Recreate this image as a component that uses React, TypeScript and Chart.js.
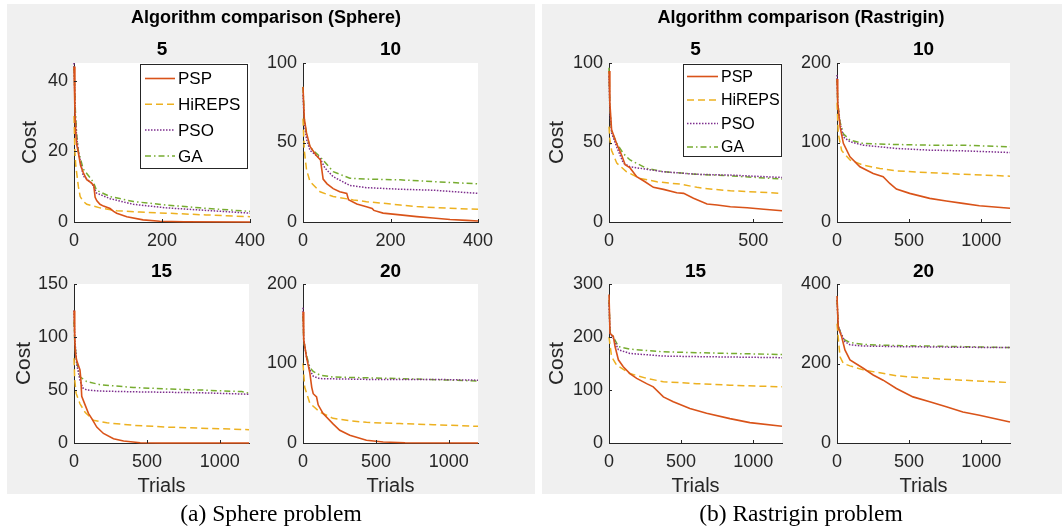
import { useEffect, useRef } from "react";
import { Chart, registerables } from "chart.js";
Chart.register(...registerables);

type Pt = [number, number];

// ---- series names and styles ----
const algorithms = ["PSP", "HiREPS", "PSO", "GA"];
const colors = ["#D95319", "#EDB120", "#7E2F8E", "#77AC30"];
const dashes: number[][] = [[], [7, 4], [1.5, 1.5], [6, 3, 1.5, 3]];
const widths = [1.6, 1.5, 1.5, 1.5];

// ---- Sphere, dim 5 ----
const sphere5PSP: Pt[] = [[0, 44], [2, 32], [4, 25], [6, 22], [10, 19.5], [15, 16], [21, 14], [29, 12], [40, 11], [45, 10.3], [48, 7], [52, 6], [59, 5], [67, 4.5], [82, 3.8], [90, 3], [97, 2.5], [120, 1.5], [157, 0.6], [195, 0.2], [250, 0.05], [400, 0]];
const sphere5HiREPS: Pt[] = [[0, 30], [2, 20], [4, 16], [6, 14], [10, 10], [14, 7.2], [20, 6], [29, 5], [59, 4], [97, 3.2], [150, 2.8], [210, 2.5], [300, 2], [400, 1.5]];
const sphere5PSO: Pt[] = [[0, 45], [3, 30], [6, 24], [10, 20], [21, 13], [40, 11], [45, 10], [51, 8.2], [82, 6.6], [135, 5], [210, 4], [286, 3.4], [400, 2.5]];
const sphere5GA: Pt[] = [[0, 44], [3, 32], [6, 25], [10, 20], [21, 15], [40, 12], [45, 11], [51, 9], [82, 7.2], [135, 5.8], [210, 4.8], [286, 4], [400, 3]];

// ---- Sphere, dim 10 ----
const sphere10PSP: Pt[] = [[0, 85], [3, 65], [8, 56], [16, 47.5], [30, 42], [40, 39], [43, 33], [46, 27], [55, 24], [69, 21], [84, 19], [100, 18], [104, 14], [123, 11.3], [145, 9.6], [158, 8.5], [162, 7.3], [183, 5.6], [222, 4.5], [260, 3.4], [297, 2.5], [336, 1.6], [374, 1], [400, 0.6]];
const sphere10HiREPS: Pt[] = [[0, 65], [3, 45], [8, 33], [16, 25.4], [39, 19], [69, 16], [115, 13.9], [145, 12.8], [222, 10.7], [260, 9.7], [336, 8.6], [400, 8]];
const sphere10PSO: Pt[] = [[0, 80], [3, 62], [8, 52], [16, 45], [39, 40], [50, 34], [69, 28.5], [107, 23], [145, 21.6], [222, 20.6], [297, 20], [400, 18]];
const sphere10GA: Pt[] = [[0, 85], [3, 65], [8, 55], [16, 47], [39, 41], [69, 31.7], [107, 27.5], [145, 27], [222, 26.5], [297, 25.4], [400, 24]];

// ---- Sphere, dim 15 ----
const sphere15PSP: Pt[] = [[0, 125], [5, 100], [10, 85], [18, 78], [41, 69], [47, 60], [53, 44], [76, 36], [99, 28], [122, 23], [156, 15], [202, 9], [271, 4], [340, 1.9], [454, 0.3], [600, 0], [1200, 0]];
const sphere15HiREPS: Pt[] = [[0, 80], [5, 60], [14, 47], [41, 37], [76, 29], [133, 21.5], [225, 19], [408, 16.7], [638, 15], [867, 14], [1200, 12.6]];
const sphere15PSO: Pt[] = [[0, 125], [5, 100], [18, 75], [41, 59], [60, 52], [87, 50], [179, 49], [408, 48.3], [867, 47.4], [1200, 46]];
const sphere15GA: Pt[] = [[0, 115], [5, 95], [18, 77], [41, 62.5], [87, 58], [179, 55], [408, 52.4], [638, 51], [867, 50], [1150, 48.5], [1200, 47]];

// ---- Sphere, dim 20 ----
const sphere20PSP: Pt[] = [[0, 165], [5, 130], [24, 108], [47, 88], [60, 70], [70, 62], [93, 58], [104, 48], [138, 37], [206, 24], [252, 16], [321, 9.7], [435, 3.4], [550, 1.3], [700, 0.3], [1200, 0]];
const sphere20HiREPS: Pt[] = [[0, 100], [12, 70], [47, 50], [115, 39], [206, 31], [321, 28], [435, 26], [664, 24.4], [893, 23], [1200, 21]];
const sphere20PSO: Pt[] = [[0, 170], [5, 130], [24, 108], [47, 92], [70, 84], [115, 81], [435, 80], [893, 80], [1200, 79]];
const sphere20GA: Pt[] = [[0, 160], [5, 128], [24, 110], [47, 95], [70, 90], [115, 85.5], [206, 83], [435, 82], [664, 81], [1200, 78]];

// ---- Rastrigin, dim 5 ----
const rast5PSP: Pt[] = [[0, 95], [3, 75], [9, 58], [27, 49], [44, 42], [56, 36], [73, 34], [96, 28.5], [125, 25.3], [154, 21.8], [189, 20.5], [235, 18.4], [259, 18], [293, 15], [340, 11.3], [375, 10.7], [421, 9.6], [479, 9], [537, 8], [600, 7.1]];
const rast5HiREPS: Pt[] = [[0, 60], [3, 52], [9, 45], [27, 37], [61, 31.6], [108, 27.4], [166, 25.3], [247, 23.8], [305, 21.8], [363, 20.5], [421, 19.7], [600, 18]];
const rast5PSO: Pt[] = [[0, 92], [3, 70], [9, 56], [27, 47], [50, 37], [73, 34.7], [189, 31.6], [305, 30], [421, 29.5], [600, 28]];
const rast5GA: Pt[] = [[0, 97], [3, 72], [9, 57], [27, 49.4], [50, 43], [73, 39], [131, 33.7], [189, 31.6], [305, 30], [421, 29], [600, 27]];

// ---- Rastrigin, dim 10 ----
const rast10PSP: Pt[] = [[0, 180], [5, 150], [21, 120], [44, 99], [90, 82], [159, 69.5], [251, 61], [320, 57], [366, 48.5], [412, 41.4], [504, 36], [643, 29.7], [758, 26.4], [873, 23.4], [988, 20.5], [1200, 17.2]];
const rast10HiREPS: Pt[] = [[0, 150], [9, 111], [32, 90], [90, 78], [182, 71.5], [297, 67.4], [412, 64.4], [643, 62], [873, 60], [1200, 57.7]];
const rast10PSO: Pt[] = [[0, 185], [5, 150], [21, 124], [44, 107], [90, 101], [182, 96.6], [412, 92.5], [643, 90.4], [873, 89.5], [1200, 87.4]];
const rast10GA: Pt[] = [[0, 180], [5, 150], [21, 126], [44, 111], [90, 103], [182, 98.7], [412, 97.5], [643, 96.6], [873, 96.6], [1200, 94.6]];

// ---- Rastrigin, dim 15 ----
const rast15PSP: Pt[] = [[0, 280], [7, 207], [30, 201], [42, 182], [65, 157], [99, 144], [145, 131], [192, 122], [261, 112], [307, 106], [377, 87], [446, 78], [561, 65], [677, 56], [839, 46], [977, 38.5], [1200, 31.6]];
const rast15HiREPS: Pt[] = [[0, 200], [18, 163], [53, 147], [145, 131], [261, 122], [377, 115.6], [607, 112], [839, 109], [1200, 106]];
const rast15PSO: Pt[] = [[0, 265], [7, 207], [30, 198], [65, 176], [145, 169], [377, 164], [607, 163], [1200, 161]];
const rast15GA: Pt[] = [[0, 270], [7, 210], [30, 200], [65, 182], [145, 177], [377, 172], [607, 170.5], [839, 169], [1200, 167]];

// ---- Rastrigin, dim 20 ----
const rast20PSP: Pt[] = [[0, 370], [9, 289], [32, 268], [55, 234], [90, 209], [182, 188], [251, 171], [320, 158], [412, 137], [527, 116], [643, 104], [758, 91], [873, 78], [988, 70], [1200, 53]];
const rast20HiREPS: Pt[] = [[0, 300], [21, 217], [44, 200], [90, 194], [182, 184], [412, 169], [643, 162.5], [873, 158], [1200, 152]];
const rast20PSO: Pt[] = [[0, 360], [9, 293], [32, 272], [55, 255], [90, 247], [182, 244], [412, 242.5], [873, 240.8], [1200, 240]];
const rast20GA: Pt[] = [[0, 360], [9, 293], [32, 272], [55, 259], [90, 253], [182, 248], [412, 245], [873, 242.5], [1200, 240]];

// ---- axis ranges / tick labels ----
const xMaxes = [400, 400, 1200, 1200, 600, 1200, 1200, 1200];
const yMaxes = [45, 100, 150, 200, 100, 200, 300, 400];
const xTicks = [[0, 200, 400], [0, 200, 400], [0, 500, 1000], [0, 500, 1000], [0, 500], [0, 500, 1000], [0, 500, 1000], [0, 500, 1000]];
const yTicks = [[0, 20, 40], [0, 50, 100], [0, 50, 100, 150], [0, 100, 200], [0, 50, 100], [0, 100, 200], [0, 100, 200, 300], [0, 200, 400]];
const subTitles = ["5", "10", "15", "20", "5", "10", "15", "20"];

const SANS = "'Liberation Sans', Arial, Helvetica, sans-serif";
const INK = "#262626";

type LegendLayout = { left: number; top: number; w: number; h: number; row0: number; gap: number; l0: number; l1: number; tx: number; font: number };

type Sub = {
  series: Pt[][];
  ax: number; ay: number; aw: number; ah: number;
  costPad: number | null; trials: boolean;
  legend?: LegendLayout;
};

const PADL = 70, PADT = 45, PADR = 15, PADB = 62;

const subs: Sub[] = [
  { series: [sphere5PSP, sphere5HiREPS, sphere5PSO, sphere5GA], ax: 74, ay: 63, aw: 176, ah: 159, costPad: 13.4, trials: false,
    legend: { left: 140, top: 63.5, w: 107, h: 104, row0: 78.5, gap: 25.8, l0: 5, l1: 35, tx: 38, font: 17 } },
  { series: [sphere10PSP, sphere10HiREPS, sphere10PSO, sphere10GA], ax: 303, ay: 63, aw: 175, ah: 159, costPad: null, trials: false },
  { series: [sphere15PSP, sphere15HiREPS, sphere15PSO, sphere15GA], ax: 74, ay: 284, aw: 175, ah: 159, costPad: 7.7, trials: true },
  { series: [sphere20PSP, sphere20HiREPS, sphere20PSO, sphere20GA], ax: 303, ay: 284, aw: 175, ah: 159, costPad: null, trials: true },
  { series: [rast5PSP, rast5HiREPS, rast5PSO, rast5GA], ax: 609, ay: 63, aw: 173, ah: 159, costPad: 5.9, trials: false,
    legend: { left: 683, top: 63.5, w: 98, h: 92, row0: 76.5, gap: 23.5, l0: 4, l1: 35, tx: 38, font: 16 } },
  { series: [rast10PSP, rast10HiREPS, rast10PSO, rast10GA], ax: 837, ay: 63, aw: 173, ah: 159, costPad: null, trials: false },
  { series: [rast15PSP, rast15HiREPS, rast15PSO, rast15GA], ax: 609, ay: 284, aw: 173, ah: 159, costPad: 6.1, trials: true },
  { series: [rast20PSP, rast20HiREPS, rast20PSO, rast20GA], ax: 837, ay: 284, aw: 173, ah: 159, costPad: null, trials: true },
];

const bgPlugin = {
  id: "bgWhite",
  beforeDraw(chart: any) {
    const { ctx, chartArea: a } = chart;
    ctx.save();
    ctx.fillStyle = "#ffffff";
    ctx.fillRect(a.left, a.top, a.right - a.left, a.bottom - a.top);
    ctx.restore();
  },
};

const tickPlugin = {
  id: "inTicks",
  afterDraw(chart: any) {
    const { ctx, chartArea: a, scales } = chart;
    ctx.save();
    ctx.strokeStyle = INK;
    ctx.lineWidth = 1;
    ctx.beginPath();
    for (const t of scales.x.ticks) {
      const px = Math.round(scales.x.getPixelForValue(t.value)) + 0.5;
      ctx.moveTo(px, a.bottom);
      ctx.lineTo(px, a.bottom - 3);
    }
    for (const t of scales.y.ticks) {
      const py = Math.round(scales.y.getPixelForValue(t.value)) + 0.5;
      ctx.moveTo(a.left, py);
      ctx.lineTo(a.left + 3, py);
    }
    ctx.stroke();
    ctx.restore();
  },
};

function makeLegendPlugin(lg: LegendLayout, offX: number, offY: number) {
  return {
    id: "boxLegend",
    afterDraw(chart: any) {
      const ctx = chart.ctx;
      const x = lg.left - offX, y = lg.top - offY;
      ctx.save();
      ctx.fillStyle = "#ffffff";
      ctx.fillRect(x, y, lg.w, lg.h);
      ctx.strokeStyle = INK;
      ctx.lineWidth = 1;
      ctx.strokeRect(Math.round(x) + 0.5, Math.round(y) + 0.5, lg.w, lg.h);
      chart.data.datasets.forEach((ds: any, i: number) => {
        const ry = lg.row0 - offY + i * lg.gap;
        ctx.save();
        ctx.strokeStyle = ds.borderColor;
        ctx.lineWidth = ds.borderWidth;
        ctx.setLineDash(ds.borderDash || []);
        ctx.beginPath();
        ctx.moveTo(x + lg.l0, ry);
        ctx.lineTo(x + lg.l1, ry);
        ctx.stroke();
        ctx.restore();
        ctx.fillStyle = "#000000";
        ctx.font = `${lg.font}px ${SANS}`;
        ctx.textBaseline = "middle";
        ctx.textAlign = "left";
        ctx.fillText(ds.label, x + lg.tx, ry + 1);
      });
      ctx.restore();
    },
  };
}

function SubPlot({ idx }: { idx: number }) {
  const s = subs[idx];
  const ref = useRef<HTMLCanvasElement>(null);
  const W = PADL + s.aw + PADR;
  const H = PADT + s.ah + PADB;
  const offX = s.ax - PADL;
  const offY = s.ay - PADT;
  useEffect(() => {
    if (!ref.current) return;
    const plugins: any[] = [bgPlugin, tickPlugin];
    if (s.legend) plugins.push(makeLegendPlugin(s.legend, offX, offY));
    const chart = new Chart(ref.current, {
      type: "line",
      data: {
        datasets: s.series.map((ser, i) => ({
          label: algorithms[i],
          data: ser.map(([x, y]) => ({ x, y })),
          borderColor: colors[i],
          borderDash: dashes[i],
          borderWidth: widths[i],
          pointRadius: 0,
          tension: 0,
          fill: false,
          clip: 3,
        })),
      },
      options: {
        animation: false,
        responsive: false,
        maintainAspectRatio: false,
        events: [],
        layout: { padding: { left: 0, top: PADT, right: PADR, bottom: 0 } },
        plugins: { legend: { display: false }, tooltip: { enabled: false }, title: { display: false } },
        scales: {
          x: {
            type: "linear",
            min: 0,
            max: xMaxes[idx],
            ticks: { padding: 8, color: INK, font: { family: SANS, size: 18 }, maxRotation: 0, autoSkip: false, callback: (v: any) => String(v) },
            afterBuildTicks: (sc: any) => { sc.ticks = xTicks[idx].map((v) => ({ value: v })); },
            grid: { display: false, drawTicks: false },
            border: { display: true, color: INK, width: 1 },
            title: { display: s.trials, text: "Trials", color: INK, font: { family: SANS, size: 20 }, padding: { top: 0, bottom: 7 } },
            afterFit: (sc: any) => { sc.height = PADB; sc.paddingLeft = 0; sc.paddingRight = 0; },
          },
          y: {
            type: "linear",
            min: 0,
            max: yMaxes[idx],
            ticks: { padding: 6, color: INK, font: { family: SANS, size: 18 }, autoSkip: false, callback: (v: any) => String(v) },
            afterBuildTicks: (sc: any) => { sc.ticks = yTicks[idx].map((v) => ({ value: v })); },
            grid: { display: false, drawTicks: false },
            border: { display: true, color: INK, width: 1 },
            title: { display: s.costPad !== null, text: "Cost", color: INK, font: { family: SANS, size: 21 }, padding: { top: s.costPad ?? 0, bottom: 0 } },
            afterFit: (sc: any) => { sc.width = PADL; sc.paddingTop = 0; sc.paddingBottom = 0; },
          },
        },
      } as any,
      plugins,
    });
    return () => chart.destroy();
  }, []);
  return (
    <canvas
      ref={ref}
      width={W}
      height={H}
      style={{ position: "absolute", left: offX, top: offY, width: W, height: H }}
    />
  );
}

function Text({ x, y, size, bold, serif, children }: { x: number; y: number; size: number; bold?: boolean; serif?: boolean; children: string }) {
  return (
    <div
      style={{
        position: "absolute",
        left: x - 200,
        top: y,
        width: 400,
        textAlign: "center",
        fontSize: size,
        lineHeight: `${size}px`,
        fontWeight: bold ? "bold" : "normal",
        fontFamily: serif ? "'Liberation Serif', 'Times New Roman', serif" : SANS,
        color: "#000",
        whiteSpace: "nowrap",
      }}
    >
      {children}
    </div>
  );
}

export default function App() {
  return (
    <div style={{ position: "absolute", left: 0, top: 0, width: 1062, height: 529, background: "#ffffff", overflow: "hidden" }}>
      <div style={{ position: "absolute", left: 7, top: 4, width: 528, height: 490, background: "#F0F0F0" }} />
      <div style={{ position: "absolute", left: 542, top: 4, width: 520, height: 490, background: "#F0F0F0" }} />
      {subs.map((_, i) => (
        <SubPlot key={i} idx={i} />
      ))}
      <Text x={266} y={7.5} size={18} bold>Algorithm comparison (Sphere)</Text>
      <Text x={801} y={7.5} size={18} bold>Algorithm comparison (Rastrigin)</Text>
      {subs.map((s, i) => (
        <Text key={"t" + i} x={s.ax + s.aw / 2} y={s.ay < 200 ? 39.3 : 260.5} size={19} bold>
          {subTitles[i]}
        </Text>
      ))}
      <Text x={271} y={502} size={23.5} serif>(a) Sphere problem</Text>
      <Text x={801} y={502} size={23.5} serif>(b) Rastrigin problem</Text>
    </div>
  );
}
